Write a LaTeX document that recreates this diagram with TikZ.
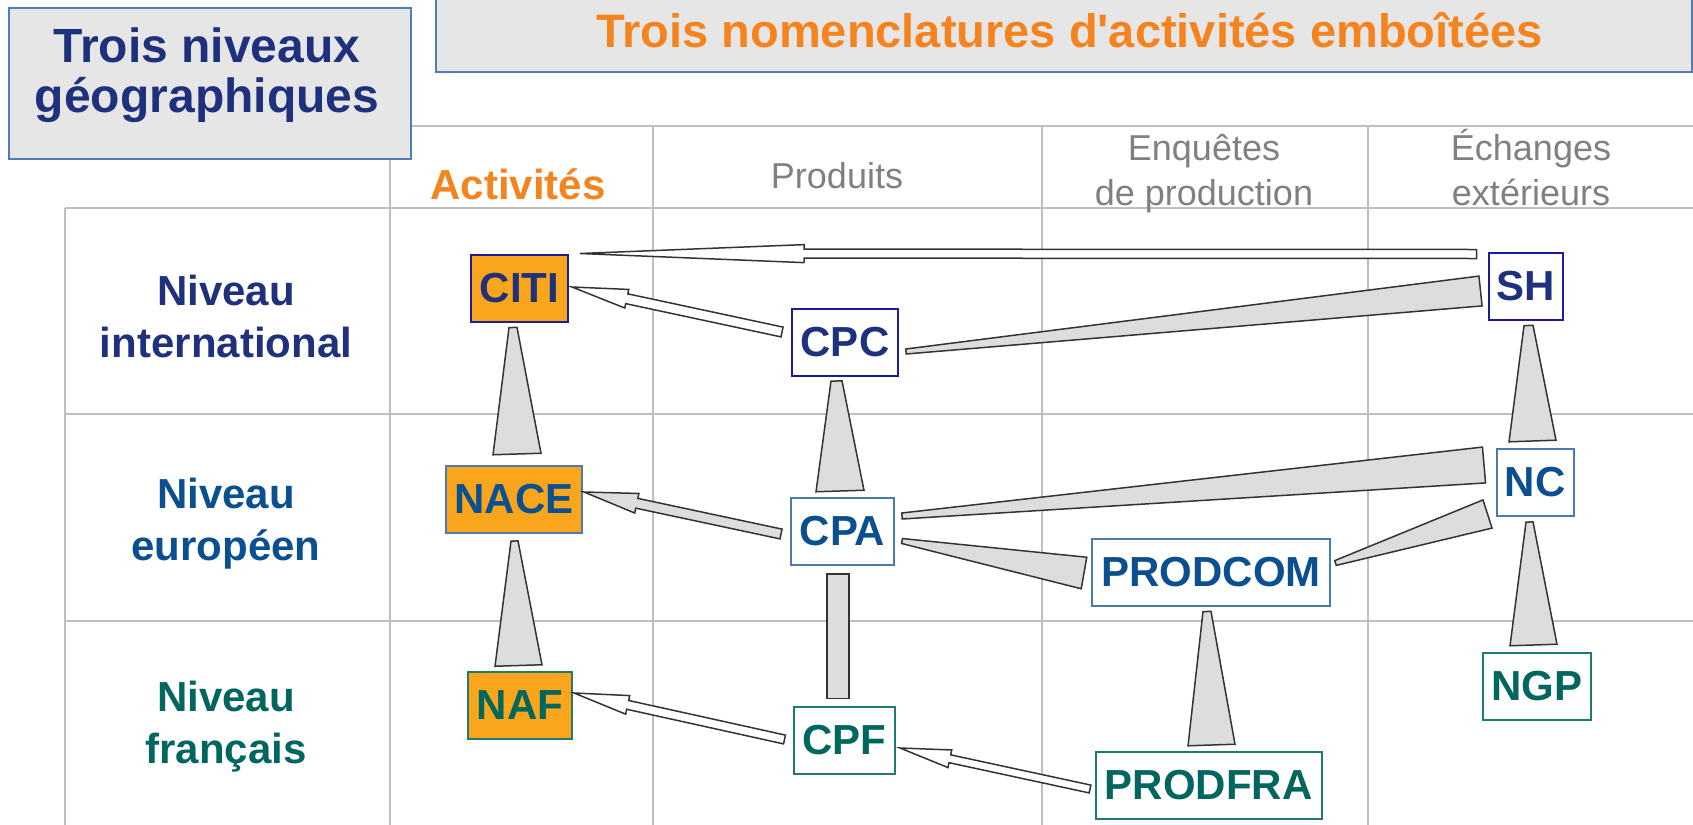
\documentclass[tikz,border=0pt]{standalone}
\usepackage{fontspec}
\setmainfont[Ligatures=TeXOff]{Liberation Sans}
\usepackage{tikz}
\usetikzlibrary{calc}
\definecolor{navytext}{RGB}{31,48,125}
\definecolor{navyline}{RGB}{28,28,160}
\definecolor{bluetext}{RGB}{10,80,145}
\definecolor{blueline}{RGB}{74,122,176}
\definecolor{tealtext}{RGB}{0,102,94}
\definecolor{tealline}{RGB}{31,122,112}
\definecolor{actorange}{RGB}{249,166,28}
\definecolor{titleorange}{RGB}{245,132,31}
\definecolor{boxgray}{RGB}{230,230,230}
\definecolor{boxline}{RGB}{79,125,181}
\definecolor{gridgray}{RGB}{191,191,191}
\definecolor{headgray}{RGB}{128,128,128}
\definecolor{connline}{RGB}{51,51,51}
\definecolor{wedgegray}{RGB}{221,221,221}
\tikzset{
  nomen/.style={draw,line width=1pt,inner sep=0pt,minimum height=33.5pt,fill=white,font=\bfseries\fontsize{21}{25}\selectfont},
  intl/.style={nomen,draw=navyline,text=navytext},
  euro/.style={nomen,draw=blueline,text=bluetext},
  fran/.style={nomen,draw=tealline,text=tealtext},
  activ/.style={fill=actorange},
  niveau/.style={align=center,anchor=base,font=\bfseries\fontsize{21}{26}\selectfont},
  colhead/.style={align=center,anchor=base,text=headgray,font=\fontsize{18}{22.5}\selectfont},
  headbox/.style={draw=boxline,fill=boxgray,line width=1pt},
  gridline/.style={draw=gridgray,line width=1pt},
  conn/.style={draw=connline,line width=0.75pt},
}
% tapered link: start, end, half width at start, half width at end
\newcommand{\taper}[4]{%
  \coordinate (ta) at #1;
  \coordinate (tb) at #2;
  \draw[conn,fill=wedgegray] ($(ta)!#3!90:(tb)$) -- ($(tb)!#4!-90:(ta)$) -- ($(tb)!#4!90:(ta)$) -- ($(ta)!#3!-90:(tb)$) -- cycle;}
% block arrow: fill, tail, tip, shaft half width, head half width, head length
\newcommand{\blockarrow}[6]{%
  \coordinate (ba) at #2;
  \coordinate (bb) at #3;
  \coordinate (bh) at ($(bb)!#6!(ba)$);
  \draw[conn,fill=#1] ($(ba)!#4!90:(bb)$) -- ($(bh)!#4!90:(bb)$) -- ($(bh)!#5!90:(bb)$) -- (bb)
    -- ($(bh)!#5!-90:(bb)$) -- ($(bh)!#4!-90:(bb)$) -- ($(ba)!#4!-90:(bb)$) -- cycle;}

\begin{document}
\begin{tikzpicture}[x=0.5pt,y=-0.5pt]
	\useasboundingbox (0,0) rectangle (1693,825);
	% grille
	\draw[gridline] (390,126) -- (1693,126);
	\foreach \y in {208,414,621} \draw[gridline] (65,\y) -- (1693,\y);
	\draw[gridline] (65,208) -- (65,825);
	\foreach \x in {390,653,1042,1368} \draw[gridline] (\x,126) -- (\x,825);
	% titres
	\draw[headbox] (9,8) rectangle (411,159);
	\draw[headbox] (436,-5) rectangle (1692,72);
	\node[align=center,anchor=base,text=navytext,font=\bfseries\fontsize{24}{25}\selectfont] (niveaux) at (207,112) {Trois niveaux\\géographiques};
	\node[anchor=base,text=titleorange,font=\bfseries\fontsize{23.5}{28}\selectfont] (titre) at (1069.5,47) {Trois nomenclatures d'activités emboîtées};
	\node[anchor=base,text=titleorange,font=\bfseries\fontsize{21}{25}\selectfont] (activites) at (518,199) {Activités};
	\node[colhead] (produits) at (837,188) {Produits};
	\node[colhead] (enquetes) at (1204,205) {Enquêtes\\de production};
	\node[colhead] (echanges) at (1531,205) {Échanges\\extérieurs};
	\node[niveau,text=navytext] (intlabel) at (226,357) {Niveau\\international};
	\node[niveau,text=bluetext] (eurolabel) at (226,560) {Niveau\\européen};
	\node[niveau,text=tealtext] (franlabel) at (226,763) {Niveau\\français};
	% nomenclatures
	\node[intl,activ,minimum width=48.5pt] (CITI) at (519.5,288) {CITI};
	\node[intl,minimum width=53pt] (CPC) at (845,342.5) {CPC};
	\node[intl,minimum width=37pt] (SH) at (1526,286) {SH};
	\node[euro,activ,minimum width=68pt] (NACE) at (514,499.5) {NACE};
	\node[euro,minimum width=51.5pt] (CPA) at (842.5,531.5) {CPA};
	\node[euro,minimum width=38.5pt] (NC) at (1535,482.5) {NC};
	\node[euro,minimum width=119pt] (PRODCOM) at (1211,572) {PRODCOM};
	\node[fran,activ,minimum width=52pt] (NAF) at (520,705.5) {NAF};
	\node[fran,minimum width=50.5pt] (CPF) at (844.5,740) {CPF};
	\node[fran,minimum width=113pt] (PRODFRA) at (1208.5,785) {PRODFRA};
	\node[fran,minimum width=54pt] (NGP) at (1537,686) {NGP};
	% liens
	\taper{($(CITI.south)+(-6.5,5)$)}{($(NACE.north)+(3,-11)$)}{2pt}{12pt}
	\taper{($(NACE.south)+(0.5,7)$)}{($(NAF.north)+(-1.5,-5.5)$)}{1.75pt}{11.75pt}
	\taper{($(CPC.south)+(-8.5,4)$)}{($(CPA.north)+(-2.5,-6)$)}{2.75pt}{12pt}
	\taper{($(CPA.south)+(-4.5,8)$)}{($(CPF.north)+(-6.5,-7)$)}{5.5pt}{5.5pt}
	\taper{($(CPC.east)+(7,9)$)}{($(SH.west)+(-7.5,5)$)}{1.25pt}{7.5pt}
	\taper{($(SH.south)+(2.5,5)$)}{($(NC.north)+(-2.5,-7)$)}{2.25pt}{11.75pt}
	\taper{($(CPA.east)+(7,-15.5)$)}{($(NC.west)+(-11.5,-17.5)$)}{1.5pt}{9pt}
	\taper{($(CPA.east)+(7,9.5)$)}{($(PRODCOM.west)+(-7,1)$)}{1.25pt}{8pt}
	\taper{($(PRODCOM.east)+(4.5,-9)$)}{($(NC.south west)+(-8,-3)$)}{1.25pt}{7.4pt}
	\taper{($(NC.south)+(-5.5,5)$)}{($(NGP.north)+(-3.5,-6.5)$)}{1.75pt}{11.75pt}
	\taper{($(PRODCOM.south)+(-4,5)$)}{($(PRODFRA.north)+(3,-5.5)$)}{2pt}{11.75pt}
	\blockarrow{white}{($(SH.north west)+(-11.5,2.5)$)}{($(CITI.north east)+(11,0)$)}{2.25pt}{4.5pt}{112pt}
	\blockarrow{white}{($(CPC.west)+(-9,-10.5)$)}{($(CITI.east)+(3,-1)$)}{2.5pt}{4.75pt}{28pt}
	\blockarrow{wedgegray}{($(CPA.west)+(-9,2.5)$)}{($(NACE.east)+(1,-7.5)$)}{2.5pt}{5pt}{27pt}
	\blockarrow{white}{($(CPF.west)+(-8.5,-0.5)$)}{($(NAF.east)+(1,-12.5)$)}{2.25pt}{4.75pt}{27.5pt}
	\blockarrow{white}{($(PRODFRA.west)+(-4.5,4)$)}{($(CPF.east)+(4,8)$)}{2pt}{4.5pt}{25.5pt}
\end{tikzpicture}
\end{document}
